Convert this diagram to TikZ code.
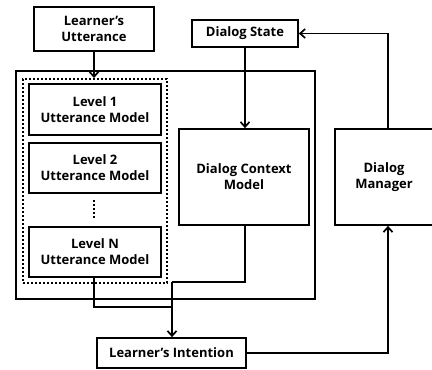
\documentclass[tikz,border=0pt]{standalone}
\usepackage{fontspec}
\setmainfont{Open Sans}
\usetikzlibrary{arrows.meta}
\begin{document}
\begin{tikzpicture}[x=1pt,y=-1pt,
  box/.style={draw,line width=1.7pt,inner sep=0pt,align=center,font=\fontsize{13}{16}\selectfont\bfseries},
  conn/.style={line width=1.7pt},
  arr/.style={conn,-{Straight Barb[length=5pt,width=9pt,line width=1.7pt]}}]
\useasboundingbox (0,0) rectangle (432,370);
% outer frame and dotted group
\node[draw,line width=1.7pt,minimum width=299pt,minimum height=228pt,inner sep=0pt] (frame) at (165.5,185) {};
\node[draw,dotted,line width=2pt,minimum width=144pt,minimum height=204pt,inner sep=0pt] (grp) at (95,181) {};
% boxes
\node[box,minimum width=120pt,minimum height=44pt] (lu) at (94,29) {Learner’s\\Utterance};
\node[box,minimum width=132pt,minimum height=51pt] (l1) at (95,109.5) {Level 1\\Utterance Model};
\node[box,minimum width=132pt,minimum height=50pt] (l2) at (95,168) {Level 2\\Utterance Model};
\node[box,minimum width=132pt,minimum height=50pt] (ln) at (95,252) {Level N\\Utterance Model};
\node[box,minimum width=130pt,minimum height=96pt] (dcm) at (244,177) {Dialog Context\\Model};
\node[box,minimum width=106pt,minimum height=27pt] (ds) at (245,33.5) {Dialog State};
\node[box,minimum width=98pt,minimum height=96pt] (dm) at (384,177) {Dialog\\Manager};
\node[box,minimum width=149pt,minimum height=30pt] (li) at (171.5,353) {Learner’s Intention};
% vertical dots between level 2 and level N
\draw[line width=2pt,dotted] (94,200) -- (94,218);
% connectors
\coordinate (m1) at (172,282);
\coordinate (m2) at (172,307);
\draw[arr] (lu.south) -- (94,78);
\draw[arr] (ds.south -| 245,0) -- (dcm.north -| 245,0);
\draw[conn] (dcm.south -| 245,0) |- (m1);
\draw[conn] (ln.south -| 94,0) |- (m2);
\draw[arr] (m1) -- (li.north -| m1);
\draw[arr] (li.east) -| (dm.south -| 388,0);
\draw[arr] (dm.north -| 388,0) |- (ds.east);
\end{tikzpicture}
\end{document}
